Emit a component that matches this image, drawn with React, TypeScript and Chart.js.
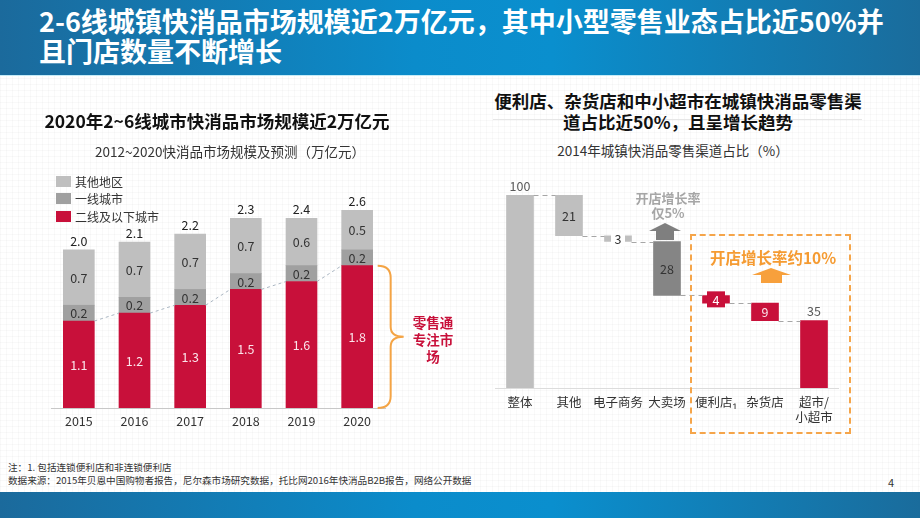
import React, { useEffect, useRef } from 'react';
import { Chart, registerables } from 'chart.js';
Chart.register(...registerables);

const FONT = "'Noto Sans CJK SC', 'Noto Sans', sans-serif";

// Left chart data (万亿元)
const years = ['2015', '2016', '2017', '2018', '2019', '2020'];
const tier2Below = [1.1, 1.2, 1.3, 1.5, 1.6, 1.8];
const tier1 = [0.2, 0.2, 0.2, 0.2, 0.2, 0.2];
const otherRegions = [0.7, 0.7, 0.7, 0.7, 0.6, 0.5];
const totalLabels = ['2.0', '2.1', '2.2', '2.3', '2.4', '2.6'];
const seriesNames = ['二线及以下城市', '一线城市', '其他地区'];

// Right chart data (%)
const channels: (string | string[])[] = ['整体', '其他', '电子商务', '大卖场', '便利店₁', '杂货店', ['超市/', '小超市']];
const channelShares = [100, 21, 3, 28, 4, 9, 35];

const RED = '#c8103a';
const LIGHT = '#bfbfbf';
const MID = '#a0a0a0';
const DARK = '#858585';

function waterfallRanges(): [number, number][] {
  const out: [number, number][] = [[0, channelShares[0]]];
  let level = channelShares[0];
  for (let i = 1; i < channelShares.length; i++) {
    const bottom = level - channelShares[i];
    out.push([bottom, level]);
    level = bottom;
  }
  return out;
}

const LeftChart: React.FC = () => {
  const ref = useRef<HTMLCanvasElement>(null);
  useEffect(() => {
    const labelPlugin = {
      id: 'leftLabels',
      afterDatasetsDraw(chart: any) {
        const ctx = chart.ctx;
        ctx.save();
        ctx.textAlign = 'center';
        ctx.textBaseline = 'middle';
        ctx.font = `12.5px ${FONT}`;
        const m0 = chart.getDatasetMeta(0).data;
        ctx.strokeStyle = '#aab6c2';
        ctx.lineWidth = 1;
        ctx.setLineDash([3, 3]);
        for (let i = 0; i < m0.length - 1; i++) {
          const a = m0[i], b = m0[i + 1];
          ctx.beginPath();
          ctx.moveTo(a.x + a.width / 2, a.y);
          ctx.lineTo(b.x - b.width / 2, b.y);
          ctx.stroke();
        }
        ctx.setLineDash([]);
        chart.data.datasets.forEach((ds: any, di: number) => {
          chart.getDatasetMeta(di).data.forEach((el: any, i: number) => {
            ctx.fillStyle = di === 0 ? '#fbe4ea' : '#333333';
            ctx.fillText(Number(ds.data[i]).toFixed(1), el.x, (el.y + el.base) / 2 + 0.5);
          });
        });
        const top = chart.getDatasetMeta(2).data;
        ctx.fillStyle = '#222222';
        top.forEach((el: any, i: number) => {
          ctx.fillText(totalLabels[i], el.x, el.y - 9);
        });
        const last = m0[m0.length - 1];
        const t = last.y, bt = last.base, mid = (t + bt) / 2;
        const x0 = last.x + last.width / 2 + 5;
        const xs = x0 + 13;
        const xt = xs + 13;
        ctx.strokeStyle = '#f4a445';
        ctx.lineWidth = 2;
        ctx.beginPath();
        ctx.moveTo(x0, t);
        ctx.quadraticCurveTo(xs, t, xs, t + 12);
        ctx.lineTo(xs, mid - 10);
        ctx.quadraticCurveTo(xs, mid, xt, mid);
        ctx.quadraticCurveTo(xs, mid, xs, mid + 10);
        ctx.lineTo(xs, bt - 12);
        ctx.quadraticCurveTo(xs, bt, x0, bt);
        ctx.stroke();
        ctx.restore();
      },
    };
    const chart = new Chart(ref.current!, {
      type: 'bar',
      data: {
        labels: years,
        datasets: [
          { label: seriesNames[0], data: tier2Below, backgroundColor: RED, barThickness: 31 },
          { label: seriesNames[1], data: tier1, backgroundColor: MID, barThickness: 31 },
          { label: seriesNames[2], data: otherRegions, backgroundColor: LIGHT, barThickness: 31 },
        ],
      },
      options: {
        animation: false,
        responsive: false,
        maintainAspectRatio: false,
        layout: { padding: { left: 11, right: 75, top: 25, bottom: 0 } },
        plugins: { legend: { display: false }, tooltip: { enabled: false } },
        scales: {
          x: {
            stacked: true,
            grid: { display: false, drawTicks: false },
            border: { display: true, color: '#c8c8c8', width: 1 },
            ticks: { padding: 6, color: '#333333', font: { family: FONT, size: 12.5 } },
            afterFit: (s: any) => { s.height = 22; },
          },
          y: { stacked: true, display: false, min: 0, max: 3.2 },
        },
      },
      plugins: [labelPlugin],
    } as any);
    return () => chart.destroy();
  }, []);
  return <canvas ref={ref} width={420} height={300} style={{ position: 'absolute', left: 40, top: 130, width: 420, height: 300 }} />;
};

const RightChart: React.FC = () => {
  const ref = useRef<HTMLCanvasElement>(null);
  useEffect(() => {
    const ranges = waterfallRanges();
    const colors = [LIGHT, LIGHT, LIGHT, DARK, RED, RED, RED];
    const plugin = {
      id: 'wfLabels',
      afterDatasetsDraw(chart: any) {
        const ctx = chart.ctx;
        const els = chart.getDatasetMeta(0).data;
        const ys = chart.scales.y;
        ctx.save();
        ctx.strokeStyle = '#a6a6a6';
        ctx.lineWidth = 1;
        ctx.setLineDash([5, 4]);
        for (let i = 0; i < els.length - 1; i++) {
          const level = i === 0 ? ranges[0][1] : ranges[i][0];
          const y = Math.round(ys.getPixelForValue(level)) + 0.5;
          ctx.beginPath();
          ctx.moveTo(els[i].x + els[i].width / 2, y);
          ctx.lineTo(els[i + 1].x - els[i + 1].width / 2, y);
          ctx.stroke();
        }
        ctx.setLineDash([]);
        ctx.textAlign = 'center';
        ctx.textBaseline = 'middle';
        ctx.font = `12.5px ${FONT}`;
        els.forEach((el: any, i: number) => {
          const v = String(channelShares[i]);
          const cy = (el.y + el.base) / 2;
          if (i === 0 || i === els.length - 1) {
            ctx.fillStyle = '#595959';
            ctx.fillText(v, el.x, Math.min(el.y, el.base) - 9);
          } else if (i === 2) {
            ctx.fillStyle = '#ffffff';
            ctx.fillRect(el.x - 7, cy - 8, 14, 16);
            ctx.fillStyle = '#333333';
            ctx.fillText(v, el.x, cy + 0.5);
          } else if (i === 4) {
            ctx.fillStyle = RED;
            ctx.fillRect(el.x - 9, cy - 8, 18, 16);
            ctx.fillStyle = '#ffffff';
            ctx.fillText(v, el.x, cy + 0.5);
          } else if (i === 5) {
            ctx.fillStyle = '#fbe4ea';
            ctx.fillText(v, el.x, cy + 0.5);
          } else {
            ctx.fillStyle = '#333333';
            ctx.fillText(v, el.x, cy + 0.5);
          }
        });
        ctx.restore();
      },
    };
    const chart = new Chart(ref.current!, {
      type: 'bar',
      data: {
        labels: channels,
        datasets: [{ data: ranges, backgroundColor: colors, barThickness: 27 }],
      },
      options: {
        animation: false,
        responsive: false,
        maintainAspectRatio: false,
        layout: { padding: { left: 15.5, right: 61.5, top: 16, bottom: 0 } },
        plugins: { legend: { display: false }, tooltip: { enabled: false } },
        scales: {
          x: {
            grid: { display: false, drawTicks: false },
            border: { display: true, color: '#dcdcdc', width: 1 },
            ticks: { padding: 7, color: '#333333', font: { family: FONT, size: 12.5 }, maxRotation: 0, autoSkip: false },
            afterFit: (s: any) => { s.height = 42; },
          },
          y: { display: false, min: 0, max: 110 },
        },
      },
      plugins: [plugin],
    } as any);
    return () => chart.destroy();
  }, []);
  return <canvas ref={ref} width={420} height={270} style={{ position: 'absolute', left: 480, top: 160, width: 420, height: 270 }} />;
};

const abs = (o: React.CSSProperties): React.CSSProperties => ({ position: 'absolute', ...o });

export default function App() {
  const banner = 'linear-gradient(90deg, #1b6a9c 0%, #0b8ccb 45%, #0a8fce 60%, #1a6c9c 100%)';
  const legendItems = [
    { name: seriesNames[2], color: LIGHT },
    { name: seriesNames[1], color: MID },
    { name: seriesNames[0], color: RED },
  ];
  return (
    <div style={{
      position: 'absolute', left: 0, top: 0, width: 920, height: 518, overflow: 'hidden', fontFamily: FONT,
      background: '#ffffff',
      backgroundImage: 'linear-gradient(rgba(0,0,0,0.025) 1px, transparent 1px), linear-gradient(90deg, rgba(0,0,0,0.025) 1px, transparent 1px)',
      backgroundSize: '6px 6px',
    }}>
      <div style={abs({ left: 0, top: 0, width: 920, height: 75, background: banner, borderBottom: '1px solid #c5ecf8' })} />
      <div style={abs({ left: 39, top: 6, color: '#ffffff', fontSize: 27, fontWeight: 700, lineHeight: '30px', whiteSpace: 'nowrap' })}>
        2-6线城镇快消品市场规模近2万亿元，其中小型零售业态占比近50%并<br />且门店数量不断增长
      </div>

      <LeftChart />
      <RightChart />

      <div style={abs({ left: 17, width: 400, top: 111, textAlign: 'center', fontSize: 17.5, fontWeight: 700, lineHeight: '20px', color: '#111', whiteSpace: 'nowrap' })}>
        2020年2~6线城市快消品市场规模近2万亿元
      </div>
      <div style={abs({ left: 30, width: 400, top: 141, textAlign: 'center', fontSize: 13.5, lineHeight: '20px', color: '#333', whiteSpace: 'nowrap' })}>
        2012~2020快消品市场规模及预测（万亿元）
      </div>
      {legendItems.map((it, i) => (
        <div key={i} style={abs({ left: 56, top: 172 + i * 17.5, height: 18, display: 'flex', alignItems: 'center', whiteSpace: 'nowrap' })}>
          <span style={{ display: 'inline-block', width: 15, height: 11, background: it.color, marginRight: 4 }} />
          <span style={{ fontSize: 12, color: '#333' }}>{it.name}</span>
        </div>
      ))}
      <div style={abs({ left: 403, width: 60, top: 314, textAlign: 'center', fontSize: 13.5, fontWeight: 700, lineHeight: '17px', color: RED })}>
        零售通<br />专注市<br />场
      </div>

      <div style={abs({ left: 493, top: 119, width: 369, height: 1, background: '#e6e6e6' })} />
      <div style={abs({ left: 478, width: 400, top: 90, textAlign: 'center', fontSize: 17.5, fontWeight: 700, lineHeight: '21px', color: '#111', whiteSpace: 'nowrap' })}>
        便利店、杂货店和中小超市在城镇快消品零售渠<br />道占比近50%，且呈增长趋势
      </div>
      <div style={abs({ left: 473, width: 400, top: 140, textAlign: 'center', fontSize: 13.5, lineHeight: '20px', color: '#333', whiteSpace: 'nowrap' })}>
        2014年城镇快消品零售渠道占比（%）
      </div>
      <div style={abs({ left: 618, width: 100, top: 190, textAlign: 'center', fontSize: 13, fontWeight: 700, lineHeight: '15px', color: '#a6a6a6' })}>
        开店增长率<br />仅5%
      </div>
      <svg style={abs({ left: 640, top: 220, width: 50, height: 25 })} width={50} height={25}>
        <polygon points="9,11 25,3 41,11 34,11 34,20 16,20 16,11" fill="#7f7f7f" />
      </svg>
      <div style={abs({ left: 690, top: 234, width: 157, height: 196, border: '2px dashed #f5a54a' })} />
      <div style={abs({ left: 703, width: 140, top: 247, textAlign: 'center', fontSize: 15.5, fontWeight: 700, lineHeight: '20px', color: '#f59b32', whiteSpace: 'nowrap' })}>
        开店增长率约10%
      </div>
      <svg style={abs({ left: 750, top: 266, width: 44, height: 20 })} width={44} height={20}>
        <polygon points="2,9 21,2 41,9 32,9 32,17 11,17 11,9" fill="#f7a03c" />
      </svg>

      <div style={abs({ left: 8, top: 461, fontSize: 9.6, lineHeight: '13px', color: '#333', whiteSpace: 'nowrap' })}>
        注：1. 包括连锁便利店和非连锁便利店<br />数据来源：2015年贝恩中国购物者报告，尼尔森市场研究数据，托比网2016年快消品B2B报告，网络公开数据
      </div>
      <div style={abs({ left: 888, top: 475, fontSize: 11, lineHeight: '14px', color: '#333' })}>4</div>
      <div style={abs({ left: 0, top: 492, width: 920, height: 26, background: banner })} />
    </div>
  );
}
